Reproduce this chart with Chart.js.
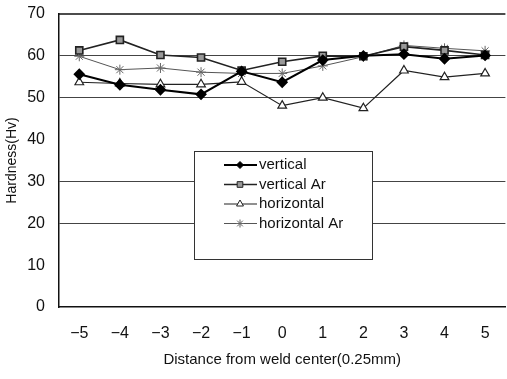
<!DOCTYPE html>
<html>
<head>
<meta charset="utf-8">
<script src="https://cdn.jsdelivr.net/npm/chart.js@4"></script>
<style>
  html, body { margin: 0; padding: 0; background: #fff; overflow: hidden; }
  .chart-box { width: 512px; height: 379px; }
</style>
</head>
<body>
<div class="chart-box"><canvas id="chart" width="512" height="379"></canvas></div>
<script>
const positions = ["−5", "−4", "−3", "−2", "−1", "0", "1", "2", "3", "4", "5"];
const vertical = [55.6, 53.1, 51.9, 50.8, 56.3, 53.7, 59.0, 60.0, 60.4, 59.3, 60.1];
const verticalAr = [61.3, 63.8, 60.2, 59.6, 56.5, 58.6, 60.0, 59.9, 62.2, 61.3, 60.2];
const horizontal = [53.7, 53.4, 53.2, 53.2, 53.8, 48.1, 50.0, 47.5, 56.5, 54.9, 55.8];
const horizontalAr = [59.9, 56.7, 57.1, 56.1, 55.8, 55.8, 57.6, 59.8, 62.5, 61.8, 61.2];
const yTicks = [0, 10, 20, 30, 40, 50, 60, 70];
const gridValues = [20, 30, 50, 60];

const FONT = "'Liberation Sans', Arial, sans-serif";

// legend box drawn inside the plot, like the original figure
const boxLegend = {
  id: "boxLegend",
  afterDraw(chart) {
    const ctx = chart.ctx;
    const x0 = 194, y0 = 151, w = 178, h = 108;
    ctx.save();
    ctx.fillStyle = "#fff";
    ctx.fillRect(x0, y0, w, h);
    ctx.strokeStyle = "#333";
    ctx.lineWidth = 1;
    ctx.strokeRect(x0 + 0.5, y0 + 0.5, w, h);
    ctx.font = "15px " + FONT;
    ctx.textBaseline = "middle";
    chart.data.datasets.forEach((ds, i) => {
      const y = 165 + i * 19.5;
      ctx.strokeStyle = ds.borderColor;
      ctx.lineWidth = ds.borderWidth;
      ctx.beginPath();
      ctx.moveTo(224, y);
      ctx.lineTo(257, y);
      ctx.stroke();
      ctx.fillStyle = ds.pointBackgroundColor;
      ctx.strokeStyle = ds.pointBorderColor;
      ctx.lineWidth = 1;
      Chart.helpers.drawPoint(ctx, {
        pointStyle: ds.pointStyle,
        radius: ds.pointRadius - 1,
        rotation: 0,
        borderWidth: 1
      }, 240, y);
      ctx.fillStyle = "#111";
      ctx.fillText(ds.label, 259, y);
    });
    ctx.restore();
  }
};

const ctx = document.getElementById("chart").getContext("2d");
new Chart(ctx, {
  type: "line",
  data: {
    labels: positions,
    datasets: [
      {
        label: "vertical",
        data: vertical,
        borderColor: "#000",
        borderWidth: 2,
        pointStyle: "rectRot",
        pointRadius: 4.5,
        pointBackgroundColor: "#000",
        pointBorderColor: "#000"
      },
      {
        label: "vertical Ar",
        data: verticalAr,
        borderColor: "#222",
        borderWidth: 1.6,
        pointStyle: "rect",
        pointRadius: 5,
        pointBackgroundColor: "#999",
        pointBorderColor: "#222"
      },
      {
        label: "horizontal",
        data: horizontal,
        borderColor: "#222",
        borderWidth: 1.2,
        pointStyle: "triangle",
        pointRadius: 5,
        pointBackgroundColor: "#fff",
        pointBorderColor: "#222"
      },
      {
        label: "horizontal Ar",
        data: horizontalAr,
        borderColor: "#555",
        borderWidth: 1,
        pointStyle: "star",
        pointRadius: 5,
        pointBackgroundColor: "#fff",
        pointBorderColor: "#666"
      }
    ]
  },
  options: {
    responsive: false,
    animation: false,
    layout: { padding: { top: 14, left: 0, right: -6, bottom: 6 } },
    plugins: {
      legend: { display: false },
      tooltip: { enabled: false }
    },
    elements: { line: { tension: 0 } },
    scales: {
      x: {
        offset: true,
        grid: { display: false, drawTicks: false },
        border: { color: "#111", width: 1.5 },
        ticks: { color: "#111", font: { family: FONT, size: 16 }, padding: 17 },
        title: {
          display: true,
          text: "Distance from weld center(0.25mm)",
          color: "#111",
          font: { family: FONT, size: 15 },
          padding: { top: 0 }
        },
        afterFit(scale) {
          scale.height = 66;
          scale.paddingLeft = 0;
          scale.paddingRight = 0;
        }
      },
      y: {
        min: 0,
        max: 70,
        afterBuildTicks(scale) { scale.ticks = yTicks.map(v => ({ value: v })); },
        grid: {
          drawTicks: false,
          color: c => (gridValues.includes(c.tick.value) ? "#444" : "rgba(0,0,0,0)"),
          lineWidth: 1
        },
        border: { color: "#111", width: 1.5 },
        ticks: { color: "#111", font: { family: FONT, size: 16 }, padding: 14 },
        title: {
          display: true,
          text: "Hardness(Hv)",
          color: "#111",
          font: { family: FONT, size: 14 },
          padding: { bottom: 0 }
        },
        afterFit(scale) {
          scale.width = 59;
          scale.paddingTop = 0;
          scale.paddingBottom = 0;
        }
      }
    }
  },
  plugins: [
    boxLegend,
    {
      id: "topLine",
      afterDraw(chart) {
        const a = chart.chartArea;
        const c = chart.ctx;
        c.save();
        c.strokeStyle = "#111";
        c.lineWidth = 1.5;
        c.beginPath();
        c.moveTo(a.left, a.top);
        c.lineTo(a.right, a.top);
        c.stroke();
        c.restore();
      }
    }
  ]
});
</script>
</body>
</html>
